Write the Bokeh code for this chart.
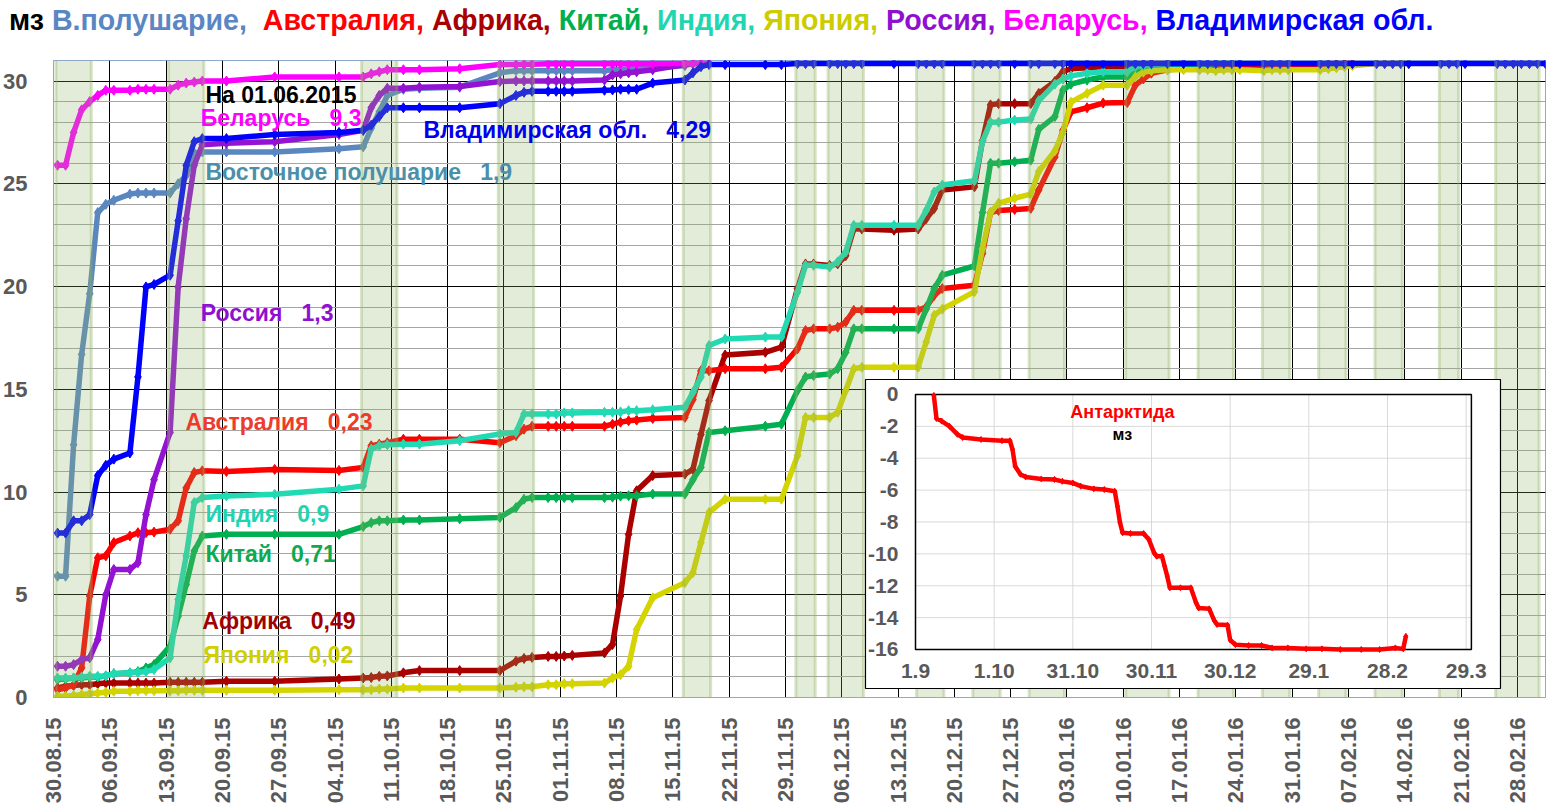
from bokeh.plotting import figure
from bokeh.models import Range1d, FixedTicker, Div
from bokeh.layouts import column
from bokeh.embed import file_html
from bokeh.resources import INLINE
from bokeh.core.properties import value

FONT = "Liberation Sans"
GRAY = "#595959"
NB = "\u00a0"

# ---------------- data ----------------
X_TICK_LABELS = [
    "30.08.15", "06.09.15", "13.09.15", "20.09.15", "27.09.15", "04.10.15",
    "11.10.15", "18.10.15", "25.10.15", "01.11.15", "08.11.15", "15.11.15",
    "22.11.15", "29.11.15", "06.12.15", "13.12.15", "20.12.15", "27.12.15",
    "03.01.16", "10.01.16", "17.01.16", "24.01.16", "31.01.16", "07.02.16",
    "14.02.16", "21.02.16", "28.02.16",
]
X_TICKS = [7 * i for i in range(len(X_TICK_LABELS))]
Y_TICKS = [0, 5, 10, 15, 20, 25, 30]
Y_MINOR = [i for i in range(1, 32) if i % 5]

# days counted from 30.08.2015
DAYS = [0, 1, 2, 3, 4, 5, 6, 7,
        9, 10, 11, 12,
        14, 15, 16, 17, 18,
        21, 27, 35,
        38, 39, 40, 41,
        43, 45, 50,
        55, 57, 58, 59,
        61, 62, 63, 64,
        68, 69, 70, 71, 72,
        74, 78, 79, 80, 81,
        83, 88, 90,
        92, 93, 94,
        96, 97, 98, 99, 100,
        104, 107, 108, 109, 110,
        114, 115, 116, 117,
        119, 121, 122,
        124, 125, 126, 128, 130,
        133, 134, 135, 136, 138, 140,
        142, 143, 144, 145, 146, 147,
        150, 151, 152, 153,
        157, 158, 159, 160, 161,
        164, 165, 166, 167, 168,
        172, 173, 174, 175,
        179, 180, 181, 182, 183, 184, 185]

EAST_HEMI = [5.9, 5.9, 12.3, 16.7, 19.65, 23.6, 24.0, 24.2,
             24.5, 24.55, 24.55, 24.55,
             24.55, 25.0, 25.4, 26.5, 26.55,
             26.55, 26.55, 26.7,
             26.8, 27.7, 28.5, 29.3,
             29.6, 29.65, 29.7,
             30.4, 30.5, 30.5, 30.5,
             30.5, 30.5, 30.5, 30.5,
             30.5, 30.55, 30.55, 30.6, 30.6,
             30.65, 30.75, 30.85, 30.85, 30.85]

AUSTRALIA = [0.38, 0.46, 0.62, 1.44, 4.94, 6.8, 6.89, 7.54,
             7.86, 8.02, 8.02, 8.05,
             8.19, 8.6, 10.2, 10.95, 11.03,
             11.0, 11.1, 11.05,
             11.2, 12.25, 12.33, 12.4,
             12.57, 12.57, 12.57,
             12.4, 12.74, 13.06, 13.2,
             13.2, 13.2, 13.2, 13.2,
             13.2, 13.3, 13.4, 13.47, 13.5,
             13.58, 13.63, 14.5, 15.9, 15.9,
             16.0, 16.0, 16.07,
             16.97, 17.86, 17.94,
             17.94, 18.02, 18.27, 18.84, 18.84,
             18.84, 18.84, 19.0, 19.57, 19.9,
             20.06, 21.6, 23.6, 23.7,
             23.75, 23.8, 24.7,
             26.3, 27.6, 28.5, 28.7, 28.93,
             28.95, 29.8, 30.1, 30.38, 30.55, 30.6,
             30.62, 30.62, 30.62, 30.62, 30.65, 30.65,
             30.65, 30.65, 30.65, 30.65,
             30.7, 30.75, 30.8, 30.85, 30.85]

AFRICA = [0.46, 0.55, 0.58, 0.62, 0.62, 0.67, 0.7, 0.7,
          0.7, 0.7, 0.7, 0.7,
          0.74, 0.74, 0.74, 0.74, 0.74,
          0.79, 0.79, 0.9,
          0.95, 0.97, 1.03, 1.05,
          1.2, 1.31, 1.31,
          1.31, 1.77, 1.9, 1.95,
          2.0, 2.0, 2.02, 2.05,
          2.17, 2.58, 4.94, 7.94, 10.06,
          10.8, 10.87, 11.1, 12.8, 14.45,
          16.67, 16.8, 17.05,
          19.9, 21.1, 21.1,
          21.03, 21.1, 21.5, 22.8, 22.8,
          22.74, 22.8, 23.3, 23.8, 24.7,
          24.85, 27.1, 28.84, 28.9,
          28.9, 28.9, 29.4,
          29.98, 30.46, 30.6, 30.65, 30.7,
          30.7, 30.75, 30.8, 30.85, 30.85, 30.85]

CHINA = [0.87, 0.9, 0.95, 0.95, 1.0, 1.0, 1.05, 1.16,
         1.2, 1.26, 1.44, 1.6,
         2.5, 3.96, 5.5, 7.13, 7.86,
         7.94, 7.94, 7.94,
         8.32, 8.51, 8.6, 8.6,
         8.64, 8.64, 8.7,
         8.76, 9.24, 9.65, 9.73,
         9.73, 9.73, 9.73, 9.73,
         9.73, 9.75, 9.8, 9.82, 9.82,
         9.9, 9.9, 10.6, 11.2, 12.9,
         12.98, 13.2, 13.3,
         14.94, 15.6, 15.67,
         15.74, 16.0, 16.8, 17.94, 17.94,
         17.94, 17.94, 18.9, 19.9, 20.55,
         21.0, 23.6, 26.0, 26.0,
         26.07, 26.15, 27.65,
         28.27, 29.55, 29.85, 30.05, 30.2,
         30.2, 30.46, 30.55, 30.6, 30.65, 30.7,
         30.75, 30.8, 30.85, 30.85, 30.85, 30.85]

INDIA = [0.95, 0.95, 0.95, 1.0, 1.03, 1.03, 1.05, 1.16,
         1.2, 1.22, 1.26, 1.36,
         1.93, 4.77, 6.89, 9.49, 9.73,
         9.81, 9.89, 10.14,
         10.3, 12.09, 12.25, 12.3,
         12.33, 12.33, 12.5,
         12.82, 12.9, 13.8, 13.8,
         13.8, 13.8, 13.85, 13.85,
         13.88, 13.88, 13.9, 13.96, 13.96,
         14.0, 14.12, 14.85, 15.6, 17.13,
         17.45, 17.54, 17.54,
         19.73, 21.03, 21.03,
         20.95, 21.2, 21.68, 22.98, 22.98,
         22.98, 22.98, 23.7, 24.6, 24.94,
         25.15, 27.05, 28.0, 28.0,
         28.1, 28.15, 29.05,
         29.85, 30.1, 30.25, 30.38, 30.45,
         30.45, 30.7, 30.75, 30.8, 30.85, 30.85]

JAPAN = [0.06, 0.06, 0.1, 0.14, 0.18, 0.22, 0.25, 0.3,
         0.3, 0.33, 0.33, 0.33,
         0.33, 0.33, 0.35, 0.35, 0.35,
         0.35, 0.35, 0.38,
         0.38, 0.38, 0.41, 0.41,
         0.46, 0.46, 0.46,
         0.46, 0.5, 0.52, 0.52,
         0.62, 0.62, 0.67, 0.67,
         0.7, 0.95, 1.11, 1.52, 3.31,
         4.85, 5.59, 6.07, 7.54, 9.0,
         9.65, 9.65, 9.65,
         11.77, 13.63, 13.63,
         13.63, 13.88, 14.94, 16.0, 16.07,
         16.07, 16.07, 17.3, 18.6, 18.9,
         19.75, 21.84, 23.6, 24.05,
         24.3, 24.5, 25.6,
         26.6, 27.5, 28.97, 29.4, 29.8,
         29.8, 30.2, 30.43, 30.5, 30.55, 30.55,
         30.55, 30.55, 30.5, 30.55, 30.55, 30.55,
         30.5, 30.55, 30.55, 30.55,
         30.55, 30.6, 30.65, 30.7, 30.75,
         30.85, 30.85, 30.85, 30.85, 30.85]

RUSSIA = [1.52, 1.52, 1.6, 1.84, 1.93, 2.82, 5.0, 6.23,
          6.23, 6.56, 8.9, 10.6,
          12.9, 19.98, 23.3, 25.9, 26.9,
          26.97, 27.05, 27.4,
          27.6, 28.7, 29.3, 29.65,
          29.65, 29.7, 29.73,
          29.98, 30.0, 30.0, 30.0,
          30.0, 30.0, 30.0, 30.0,
          30.05, 30.3, 30.35, 30.4, 30.45,
          30.55, 30.8, 30.85, 30.85, 30.85]

BELARUS = [25.9, 25.9, 27.5, 28.6, 29.0, 29.3, 29.55, 29.55,
           29.55, 29.6, 29.6, 29.6,
           29.6, 29.8, 29.9, 29.95, 30.0,
           30.0, 30.2, 30.2,
           30.2, 30.35, 30.45, 30.55,
           30.55, 30.55, 30.6,
           30.8, 30.8, 30.82, 30.82,
           30.84, 30.84, 30.84, 30.84,
           30.84, 30.84, 30.84, 30.84, 30.84,
           30.84, 30.85, 30.85, 30.85, 30.85]

VLADIMIR = [8.0, 8.0, 8.6, 8.6, 8.9, 10.8, 11.3, 11.6,
            11.9, 15.6, 19.98, 20.1,
            20.55, 23.2, 25.9, 27.05, 27.2,
            27.2, 27.4, 27.5,
            27.6, 27.85, 28.27, 28.7,
            28.7, 28.7, 28.7,
            28.9, 29.3, 29.45, 29.5,
            29.5, 29.5, 29.5, 29.5,
            29.55, 29.57, 29.6, 29.6, 29.6,
            29.9, 30.05, 30.4, 30.7, 30.8,
            30.8, 30.8, 30.8,
            30.85, 30.85, 30.85,
            30.85, 30.85, 30.85, 30.85, 30.85,
            30.85, 30.85, 30.85, 30.85, 30.85,
            30.85, 30.85, 30.85, 30.85,
            30.85, 30.85, 30.85,
            30.85, 30.85, 30.85, 30.85, 30.85,
            30.85, 30.85, 30.85, 30.85, 30.85, 30.85,
            30.85, 30.85, 30.85, 30.85, 30.85, 30.85,
            30.85, 30.85, 30.85, 30.85,
            30.85, 30.85, 30.85, 30.85, 30.85,
            30.85, 30.85, 30.85, 30.85, 30.85,
            30.85, 30.85, 30.85, 30.85,
            30.85, 30.85, 30.85, 30.85, 30.85, 30.85, 30.85]

# shaded periods (first and last day of each, counted from 30.08.2015)
BAND_START = [0, 14, 38, 55, 78, 92, 96, 107, 114, 121, 133, 142, 150, 157, 164, 172, 179]
BAND_END = [4, 18, 42, 59, 81, 94, 100, 110, 117, 125, 138, 146, 153, 160, 167, 174, 184]

# inset: Antarctica, days counted from 01.09.2015
ANT_DAYS = [7, 8, 10, 13, 16, 18, 25, 33, 36, 37,
            38, 40, 42, 48, 53, 56, 60, 63, 68, 72,
            76, 77, 78, 79, 82, 87, 89, 91, 92, 94,
            95, 96, 97, 101, 105, 107, 108, 112, 114, 115,
            119, 120, 122, 127, 132, 136, 142, 149, 155, 162,
            170, 177, 183, 186, 187]
ANT_VALS = [-0.06, -1.5, -1.67, -2.0, -2.5, -2.7, -2.82, -2.9, -2.9, -3.45,
            -4.5, -5.0, -5.17, -5.3, -5.33, -5.45, -5.55, -5.75, -5.92, -5.96,
            -6.07, -7.0, -8.05, -8.68, -8.72, -8.72, -9.1, -9.94, -10.15, -10.15,
            -10.77, -11.4, -12.13, -12.13, -12.13, -13.07, -13.4, -13.45, -14.2, -14.43,
            -14.47, -15.4, -15.7, -15.75, -15.75, -15.9, -15.9, -15.96, -15.96, -16.0,
            -16.0, -16.0, -15.9, -15.96, -15.17]
INSET_X_TICKS = [0, 30, 60, 90, 120, 150, 180, 210]
INSET_X_LABELS = ["1.9", "1.10", "31.10", "30.11", "30.12", "29.1", "28.2", "29.3"]
INSET_Y_TICKS = [0, -2, -4, -6, -8, -10, -12, -14, -16]

ANNOT_TEXTS = ["На 01.06.2015", "Беларусь   9,3", "Владимирская обл.   4,29",
               "Восточное полушарие   1,9", "Россия   1,3", "Австралия   0,23",
               "Индия   0,9", "Китай   0,71", "Африка   0,49", "Япония   0,02"]

TITLE_PARTS = [("мз ", "#000000"), ("В.полушарие,", "#5a87c3"),
               ("  Австралия,", "#ff0000"), (" Африка,", "#a80000"),
               (" Китай,", "#00b050"), (" Индия,", "#1fd6b0"),
               (" Япония,", "#cccc00"), (" Россия,", "#9010d0"),
               (" Беларусь,", "#ff00ff"), (" Владимирская обл.", "#0000ff")]

# ---------------- styles / layout ----------------
SERIES = [
    (AFRICA, "#aa0000"),
    (AUSTRALIA, "#ff0000"),
    (CHINA, "#00b050"),
    (JAPAN, "#d4d400"),
    (INDIA, "#20dab4"),
    (EAST_HEMI, "#5b87c1"),
    (RUSSIA, "#9412d2"),
    (BELARUS, "#ff00ff"),
    (VLADIMIR, "#0000ff"),
]
ANNOT_COLORS = ["#000000", "#ff00ff", "#0000ee", "#4b8fa9", "#9010d0",
                "#ee3b2b", "#20d4b0", "#10a850", "#a00000", "#d0d000"]
ANNOT_X = [18.9, 18.3, 46.0, 18.9, 18.3, 16.4, 18.9, 18.9, 18.5, 18.65]
ANNOT_Y = [29.34, 28.22, 27.6, 25.55, 18.73, 13.43, 8.95, 6.96, 3.7, 2.09]

p = figure(frame_width=1492, frame_height=637,
           min_border_left=47, min_border_right=2, min_border_top=10, min_border_bottom=112,
           x_range=Range1d(0, 185.5), y_range=Range1d(0, 31),
           output_backend="svg", toolbar_location=None,
           background_fill_color="white", border_fill_color="white")
p.outline_line_color = "#8ea9cf"
p.extra_x_ranges = {"ix": Range1d(-328.73, 240.26)}
p.extra_y_ranges = {"iy": Range1d(-19.012, 20.957)}

# axes
p.xaxis.ticker = FixedTicker(ticks=X_TICKS)
p.xaxis.major_label_overrides = {t: lab for t, lab in zip(X_TICKS, X_TICK_LABELS)}
p.xaxis.major_label_orientation = 1.5707963
p.yaxis.ticker = FixedTicker(ticks=Y_TICKS, minor_ticks=Y_MINOR)
for ax in (p.xaxis, p.yaxis):
    ax.major_label_text_font = FONT
    ax.major_label_text_font_style = "bold"
    ax.major_label_text_color = GRAY
    ax.major_tick_line_color = None
    ax.minor_tick_line_color = None
    ax.axis_line_color = "#8ea9cf"
p.xaxis.major_label_text_font_size = "22px"
p.yaxis.major_label_text_font_size = "22px"
p.xaxis.major_label_standoff = 14
p.yaxis.major_label_standoff = 20

p.xgrid.ticker = FixedTicker(ticks=X_TICKS)
p.xgrid.grid_line_color = "black"
p.xgrid.grid_line_width = 1
p.ygrid.ticker = FixedTicker(ticks=Y_TICKS, minor_ticks=Y_MINOR)
p.ygrid.grid_line_color = "black"
p.ygrid.minor_grid_line_color = "#a6a6a6"

# series lines
for vals, color in SERIES:
    xs = [d + 0.5 for d in DAYS[:len(vals)]]
    p.line(xs, vals, line_color=color, line_width=5.5, line_join="round")
    p.scatter(xs, vals, marker="diamond", size=10, fill_color=color, line_color=color)

# shaded periods (semi-transparent, drawn over the lines)
b_left = [s + 0.3 for s in BAND_START]
b_right = [e + 0.7 for e in BAND_END]
p.quad(left=b_left, right=b_right, bottom=0, top=31,
       fill_color="#8fb363", fill_alpha=0.25, line_color=None)
p.segment(x0=b_left + b_right, y0=0, x1=b_left + b_right, y1=31,
          line_color="#8fb363", line_alpha=0.35, line_width=3)

# inset
IK = dict(x_range_name="ix", y_range_name="iy")
p.quad(left=-19.07, right=223.09, bottom=-18.447, top=0.941,
       fill_color="white", line_color="black", line_width=1.2, **IK)
gx = INSET_X_TICKS[1:]
p.segment(x0=gx, y0=-16, x1=gx, y1=0, line_color="#d9d9d9", line_width=1, **IK)
gy = INSET_Y_TICKS[1:-1]
p.segment(x0=0, y0=gy, x1=212, y1=gy, line_color="#d9d9d9", line_width=1, **IK)
p.quad(left=0, right=212, bottom=-16, top=0, fill_color=None,
       line_color="black", line_width=1.5, **IK)
p.line(ANT_DAYS, ANT_VALS, line_color="#ff0000", line_width=4.5, line_join="round", **IK)
p.scatter(ANT_DAYS, ANT_VALS, marker="diamond", size=6, fill_color="#ff0000",
          line_color="#ff0000", **IK)
p.text(x=INSET_X_TICKS, y=-17.32, text=INSET_X_LABELS, text_font=value(FONT),
       text_font_style="bold", text_font_size="21px", text_color=GRAY,
       text_align="center", text_baseline="middle", **IK)
p.text(x=-6.5, y=INSET_Y_TICKS, text=[str(v) for v in INSET_Y_TICKS], text_font=value(FONT),
       text_font_style="bold", text_font_size="21px", text_color=GRAY,
       text_align="right", text_baseline="middle", **IK)
p.text(x=[78.9], y=[-1.07], text=["Антарктида"], text_font=value(FONT),
       text_font_style="bold", text_font_size="18px", text_color="#ff0000",
       text_align="center", text_baseline="middle", **IK)
p.text(x=[78.9], y=[-2.51], text=["мз"], text_font=value(FONT),
       text_font_style="bold", text_font_size="16px", text_color="black",
       text_align="center", text_baseline="middle", **IK)

# annotations (non-breaking spaces keep the wide gaps)
p.text(x=ANNOT_X, y=ANNOT_Y, text=[t.replace(" ", NB) for t in ANNOT_TEXTS],
       text_color=ANNOT_COLORS,
       text_font=value(FONT), text_font_style="bold", text_font_size="23px",
       text_align="left", text_baseline="middle")

title_html = "".join(
    '<span style="color:%s">%s</span>' % (c, t.replace(" ", "&nbsp;")) for t, c in TITLE_PARTS)
div = Div(text=title_html, width=1541, height=40,
          styles={"font-family": FONT, "font-size": "28.6px", "font-weight": "bold",
                  "white-space": "nowrap", "line-height": "30px",
                  "padding-left": "4px", "padding-top": "0px"})

layout = column(div, p)
open("out.html", "w").write(file_html(layout, INLINE))
